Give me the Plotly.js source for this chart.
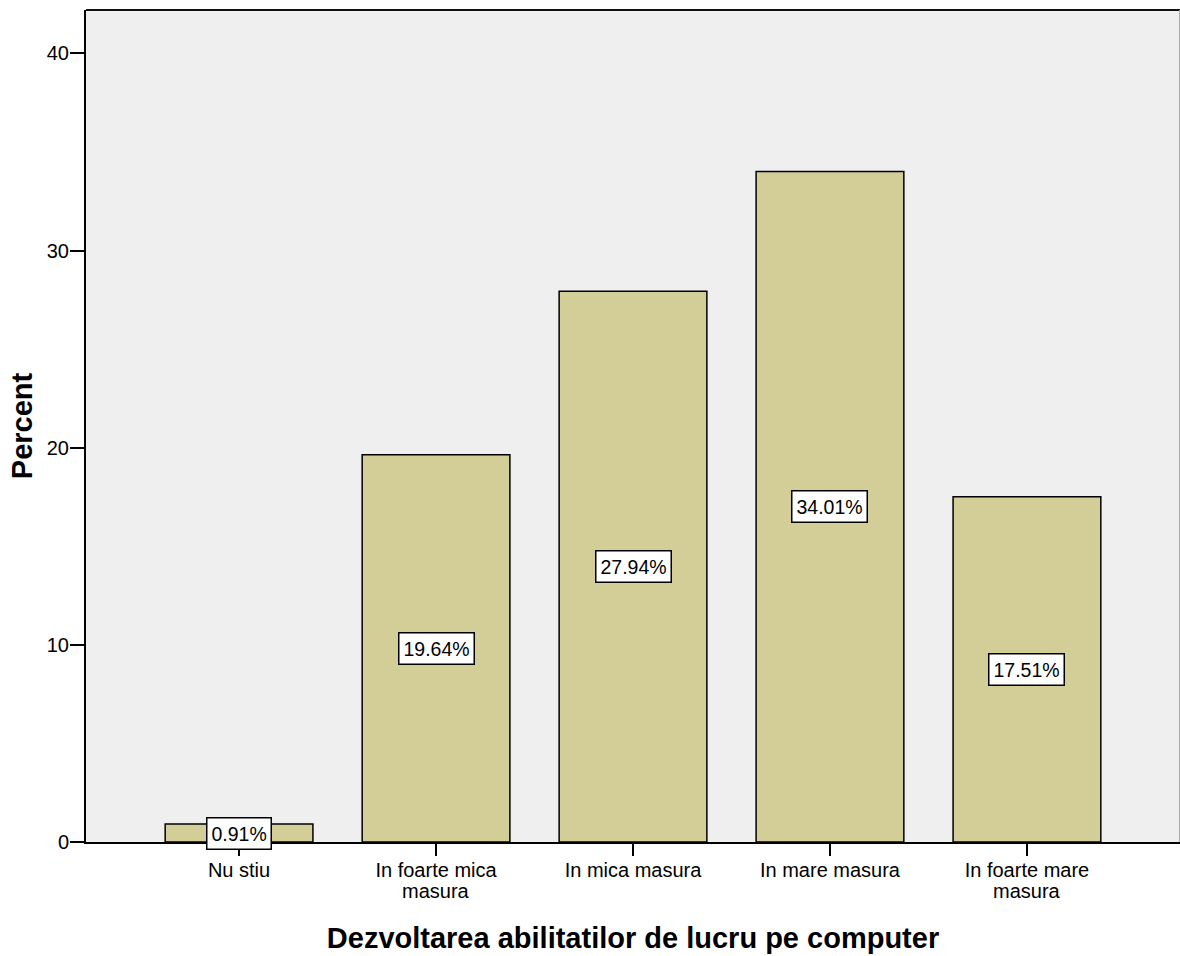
<!DOCTYPE html>
<html>
<head>
<meta charset="utf-8">
<script src="https://cdn.plot.ly/plotly-3.0.1.min.js"></script>
<style>
  html, body { margin: 0; padding: 0; background: #ffffff; }
  #chart { width: 1180px; height: 956px; }
</style>
</head>
<body>
<div id="chart"></div>
<script>
// Response categories and their percentages
const categories = ["Nu stiu", "In foarte mica masura", "In mica masura", "In mare masura", "In foarte mare masura"];
const tickLine1 = ["Nu stiu", "In foarte mica", "In mica masura", "In mare masura", "In foarte mare"];
const tickLine2 = ["", "masura", "", "", "masura"];
const percents = [0.91, 19.64, 27.94, 34.01, 17.51];

const FONT = "Liberation Sans, Arial, sans-serif";
const TICK_SIZE = 20;

const bars = {
  type: "bar",
  x: categories,
  y: percents,
  width: 0.75,
  marker: { color: "#d3cd98", line: { color: "#000000", width: 1.5 } },
  hoverinfo: "x+y"
};

// Value labels in white boxes centred on each bar
const valueLabels = categories.map((c, i) => ({
  x: c,
  y: percents[i] / 2,
  xref: "x",
  yref: "y",
  text: percents[i].toFixed(2) + "%",
  showarrow: false,
  font: { family: FONT, size: 19.5, color: "#000000" },
  bgcolor: "#ffffff",
  bordercolor: "#000000",
  borderwidth: 1.5,
  borderpad: 4
}));

// Second line of the wrapped category labels, set tight under the first line
const wrapLines = categories
  .map((c, i) => ({ c, t: tickLine2[i] }))
  .filter(d => d.t !== "")
  .map(d => ({
    x: d.c,
    y: 0,
    xref: "x",
    yref: "paper",
    yanchor: "top",
    yshift: -36,
    text: d.t,
    showarrow: false,
    font: { family: FONT, size: TICK_SIZE, color: "#000000" }
  }));

const layout = {
  width: 1180,
  height: 956,
  margin: { l: 86, r: 0, t: 10, b: 114 },
  paper_bgcolor: "#ffffff",
  plot_bgcolor: "#efefef",
  showlegend: false,
  bargap: 0.25,
  xaxis: {
    type: "category",
    categoryorder: "array",
    categoryarray: categories,
    tickvals: categories,
    ticktext: tickLine1,
    range: [-0.777, 4.777],
    showgrid: false,
    zeroline: false,
    showline: true,
    linecolor: "#000000",
    linewidth: 2,
    ticks: "outside",
    ticklen: 12,
    tickwidth: 2,
    tickcolor: "#000000",
    ticklabelstandoff: -3,
    tickfont: { family: FONT, size: TICK_SIZE, color: "#000000" },
    title: {
      text: "Dezvoltarea abilitatilor de lucru pe computer",
      font: { family: FONT, size: 29, color: "#000000", weight: "bold" },
      standoff: 48
    }
  },
  yaxis: {
    range: [0, 42.2],
    tickvals: [0, 10, 20, 30, 40],
    showgrid: false,
    zeroline: false,
    showline: true,
    linecolor: "#000000",
    linewidth: 2,
    ticks: "outside",
    ticklen: 14,
    tickwidth: 2,
    tickcolor: "#000000",
    ticklabelstandoff: -3,
    tickfont: { family: FONT, size: TICK_SIZE, color: "#000000" },
    title: {
      text: "Percent",
      font: { family: FONT, size: 29, color: "#000000", weight: "bold" },
      standoff: 6
    }
  },
  shapes: [
    { type: "line", xref: "paper", yref: "paper", x0: 0, x1: 1, y0: 1, y1: 1,
      line: { color: "#111111", width: 2 } },
    { type: "line", xref: "paper", yref: "paper", x0: 1, x1: 1, y0: 0, y1: 1,
      line: { color: "#aaaaaa", width: 2 } }
  ],
  annotations: valueLabels.concat(wrapLines)
};

Plotly.newPlot("chart", [bars], layout, { displayModeBar: false, staticPlot: true });
</script>
</body>
</html>
